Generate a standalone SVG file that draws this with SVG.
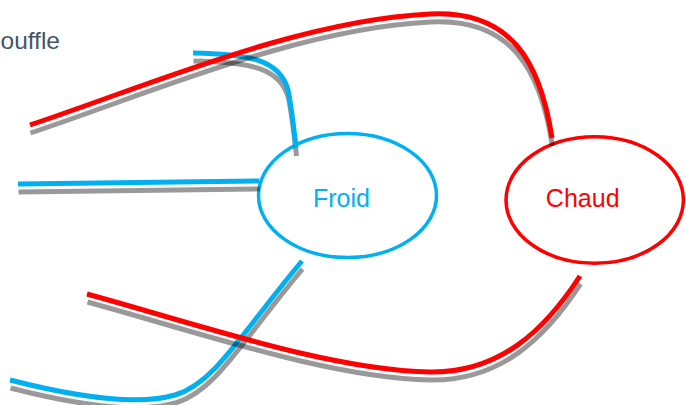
<svg xmlns="http://www.w3.org/2000/svg" xmlns:xlink="http://www.w3.org/1999/xlink" width="686" height="405" viewBox="0 0 686 405">
  <style>
    .bg { fill: #ffffff; }
    .node-cold { fill: #ffffff; stroke: #00B0F0; stroke-width: 3.5; }
    .node-hot { fill: #ffffff; stroke: #FF0000; stroke-width: 3.5; }
    .lbl { font-family: "Liberation Sans", Arial, sans-serif; font-size: 25px; text-anchor: middle; }
    .lbl-cold { fill: #00B0F0; }
    .lbl-hot { fill: #FF0000; }
    .title { font-family: "Liberation Sans", Arial, sans-serif; font-size: 24.5px; fill: #44546A; }
    .wire { fill: none; stroke-width: 5; stroke-linecap: butt; stroke-linejoin: round; }
    .shadow { stroke: #000000; stroke-opacity: 0.4; }
    .cold { stroke: #00B0F0; }
    .hot { stroke: #FF0000; }
  </style>
  <defs>
    <path id="p-blue-top" d="M193,53 C250,54 280,60 288,90 C292,110 294,130 296,148"/>
    <path id="p-blue-mid" d="M18,184 L259,181"/>
    <path id="p-blue-bot" d="M10,380 C80,398 140,405 175,395 C215,383 240,335 302,261"/>
    <path id="p-red-top" d="M30,125 C150,85 300,20 430,14 C510,10 540,60 552,138"/>
    <path id="p-red-bot" d="M87,294 C200,325 330,370 430,372 C500,373 545,330 580,276"/>
  </defs>
  <rect class="bg" x="0" y="0" width="686" height="405"/>

  <text class="title" x="0.5" y="49">ouffle</text>

  <g id="froid">
    <ellipse class="node-cold" cx="347.5" cy="195.5" rx="89" ry="62"/>
    <text class="lbl lbl-cold" x="341.5" y="207">Froid</text>
  </g>
  <g id="chaud">
    <ellipse class="node-hot" cx="594.7" cy="200" rx="88.7" ry="63.3"/>
    <text class="lbl lbl-hot" x="582.7" y="207.3">Chaud</text>
  </g>

  <g id="connectors">
    <g id="c-blue-top">
      <use xlink:href="#p-blue-top" href="#p-blue-top" class="wire shadow" transform="translate(0.5,8)"/>
      <use xlink:href="#p-blue-top" href="#p-blue-top" class="wire cold"/>
    </g>
    <g id="c-blue-mid">
      <use xlink:href="#p-blue-mid" href="#p-blue-mid" class="wire shadow" transform="translate(0.5,8)"/>
      <use xlink:href="#p-blue-mid" href="#p-blue-mid" class="wire cold"/>
    </g>
    <g id="c-blue-bot">
      <use xlink:href="#p-blue-bot" href="#p-blue-bot" class="wire shadow" transform="translate(0.5,8)"/>
      <use xlink:href="#p-blue-bot" href="#p-blue-bot" class="wire cold"/>
    </g>
    <g id="c-red-top">
      <use xlink:href="#p-red-top" href="#p-red-top" class="wire shadow" transform="translate(0.5,8)"/>
      <use xlink:href="#p-red-top" href="#p-red-top" class="wire hot"/>
    </g>
    <g id="c-red-bot">
      <use xlink:href="#p-red-bot" href="#p-red-bot" class="wire shadow" transform="translate(0.5,8)"/>
      <use xlink:href="#p-red-bot" href="#p-red-bot" class="wire hot"/>
    </g>
  </g>
</svg>
